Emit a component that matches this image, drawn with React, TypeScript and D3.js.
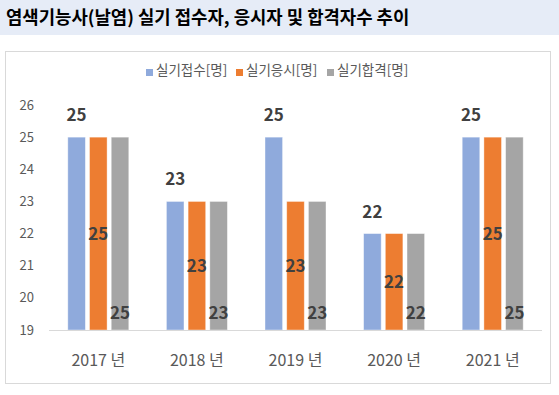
import React, { useEffect, useRef } from 'react';
import * as d3 from 'd3';

const years = ['2017 년', '2018 년', '2019 년', '2020 년', '2021 년'];
const applied = [25, 23, 25, 22, 25];
const tested = [25, 23, 23, 22, 25];
const passed = [25, 23, 23, 22, 25];
const seriesNames = ['실기접수[명]', '실기응시[명]', '실기합격[명]'];
const yTicks = [19, 20, 21, 22, 23, 24, 25, 26];

const colors = ['#8faadc', '#ed7d31', '#a5a5a5'];
const FONT = '"Noto Sans CJK KR", "Noto Sans", sans-serif';

export default function App() {
  const svgRef = useRef<SVGSVGElement>(null);

  useEffect(() => {
    if (!svgRef.current) return;
    const svg = d3.select(svgRef.current);
    svg.selectAll('*').remove();

    // title strip
    svg.append('rect').attr('x', 0).attr('y', 0).attr('width', 559).attr('height', 35).attr('fill', '#e6ecf7');
    svg.append('text')
      .attr('x', 6).attr('y', 24)
      .attr('font-family', FONT).attr('font-weight', 'bold').attr('font-size', 17.8)
      .attr('fill', '#000')
      .text('염색기능사(날염) 실기 접수자, 응시자 및 합격자수 추이');

    // chart frame
    svg.append('rect')
      .attr('x', 5.5).attr('y', 51.5).attr('width', 545).attr('height', 332)
      .attr('fill', '#fff').attr('stroke', '#d9d9d9');

    const x = d3.scaleBand().domain(years).range([49, 542]);
    const y = d3.scaleLinear().domain([19, 26]).range([330, 105]);

    const groupW = 61;
    const inner = d3.scaleBand().domain(['0', '1', '2']).range([0, groupW]).paddingInner(0.19);

    // y tick labels
    svg.append('g').selectAll('text').data(yTicks).join('text')
      .attr('x', 34).attr('y', d => y(d)).attr('dy', '0.35em')
      .attr('text-anchor', 'end')
      .attr('font-family', FONT).attr('font-size', 13).attr('fill', '#595959')
      .text(d => d);

    const series = [applied, tested, passed];
    series.forEach((vals, si) => {
      const g = svg.append('g');
      g.selectAll('rect').data(vals).join('rect')
        .attr('x', (d, i) => (x(years[i]) as number) + x.bandwidth() / 2 - groupW / 2 + (inner(String(si)) as number))
        .attr('y', d => y(d))
        .attr('width', inner.bandwidth())
        .attr('height', d => y(19) - y(d))
        .attr('fill', colors[si])
        .attr('stroke', '#fff').attr('stroke-opacity', 0.5).attr('stroke-width', 0.8);
    });

    // baseline
    svg.append('line')
      .attr('x1', 49).attr('x2', 542).attr('y1', y(19) + 0.5).attr('y2', y(19) + 0.5)
      .attr('stroke', '#d9d9d9');

    // data labels
    series.forEach((vals, si) => {
      svg.append('g').selectAll('text').data(vals).join('text')
        .attr('x', (d, i) => (x(years[i]) as number) + x.bandwidth() / 2 - groupW / 2 + (inner(String(si)) as number) + inner.bandwidth() / 2)
        .attr('y', d => {
          if (si === 0) return y(d) - 22;
          if (si === 1) return (y(d) + y(19)) / 2;
          return y(19) - 17;
        })
        .attr('dy', '0.35em')
        .attr('text-anchor', 'middle')
        .attr('font-family', FONT).attr('font-weight', 'bold').attr('font-size', 17)
        .attr('fill', '#404040')
        .text(d => d);
    });

    // x labels
    svg.append('g').selectAll('text').data(years).join('text')
      .attr('x', d => (x(d) as number) + x.bandwidth() / 2)
      .attr('y', 360).attr('dy', '0.35em')
      .attr('text-anchor', 'middle')
      .attr('font-family', FONT).attr('font-size', 16).attr('fill', '#595959')
      .text(d => d);

    // legend
    const legendX = [146, 236, 327];
    seriesNames.forEach((name, i) => {
      svg.append('rect')
        .attr('x', legendX[i]).attr('y', 69).attr('width', 7).attr('height', 7)
        .attr('fill', colors[i]);
      svg.append('text')
        .attr('x', legendX[i] + 10).attr('y', 70).attr('dy', '0.35em')
        .attr('font-family', FONT).attr('font-size', 13.5).attr('fill', '#595959')
        .text(name);
    });
  }, []);

  return (
    <div style={{ position: 'absolute', left: 0, top: 0 }}>
      <svg ref={svgRef} width={559} height={395} style={{ display: 'block', background: '#fff' }} />
    </div>
  );
}
